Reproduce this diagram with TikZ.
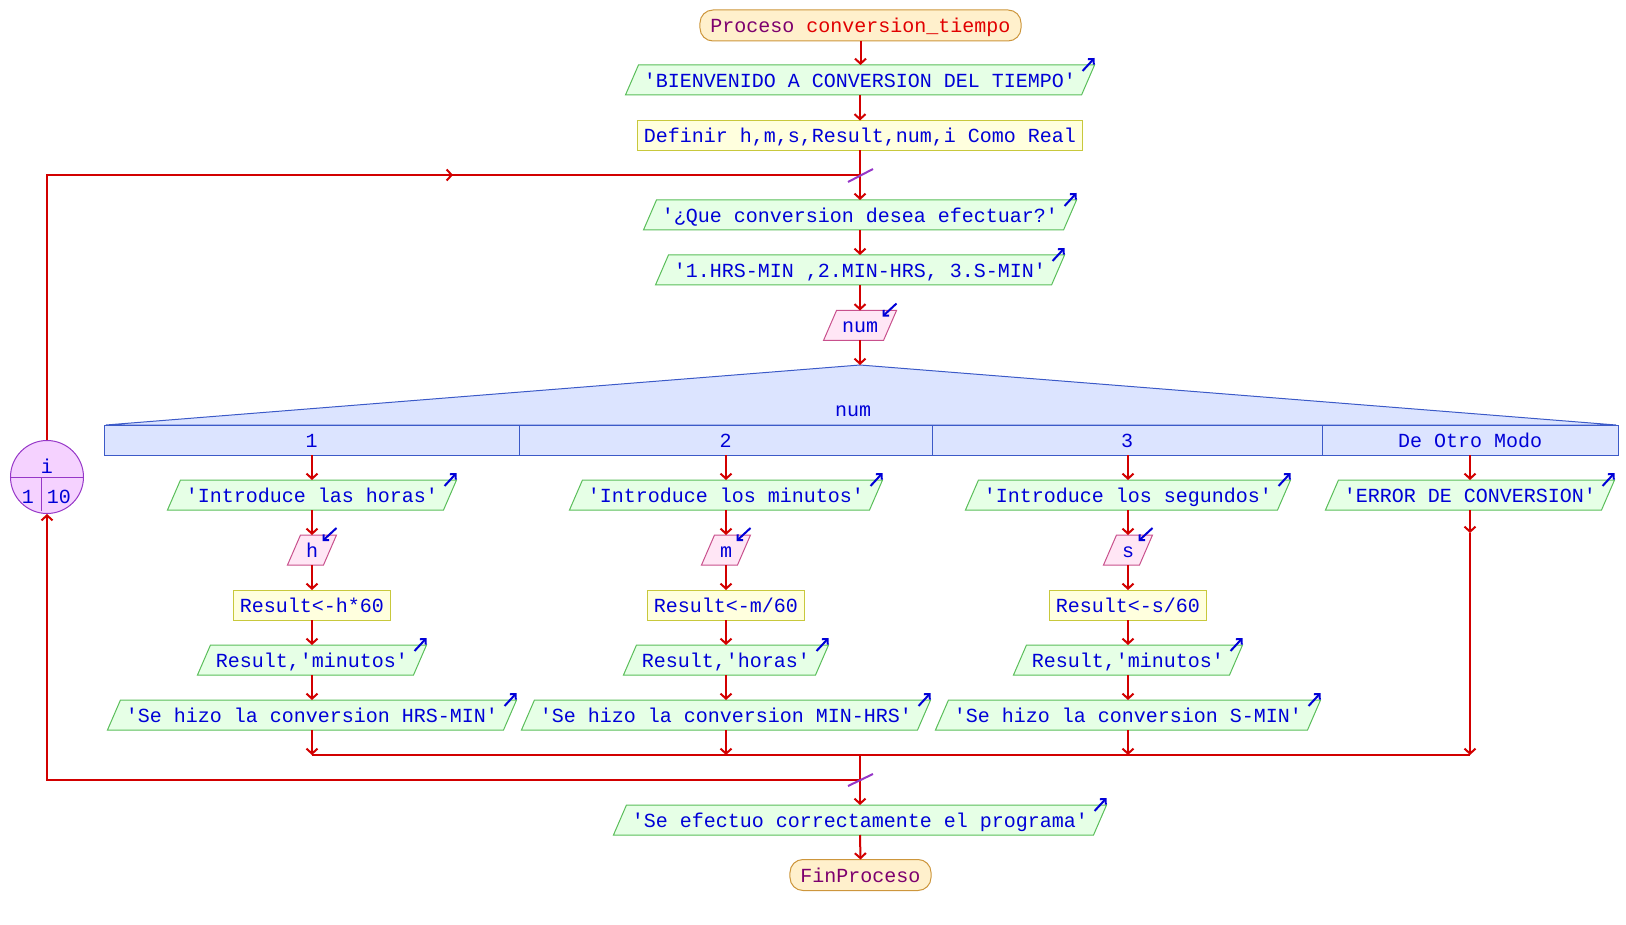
\documentclass[tikz,border=0pt]{standalone}
\usepackage{fontspec}
\setmonofont{Liberation Mono}
\usetikzlibrary{arrows.meta,calc,backgrounds}
\definecolor{txtblue}{RGB}{0,0,215}
\definecolor{flowred}{RGB}{210,0,0}
\definecolor{termfill}{RGB}{255,240,204}
\definecolor{termdraw}{RGB}{205,150,60}
\definecolor{termpurple}{RGB}{125,0,110}
\definecolor{termred}{RGB}{225,0,0}
\definecolor{outfill}{RGB}{230,255,230}
\definecolor{outdraw}{RGB}{90,190,90}
\definecolor{deffill}{RGB}{255,255,222}
\definecolor{defdraw}{RGB}{200,200,60}
\definecolor{infill}{RGB}{255,230,245}
\definecolor{indraw}{RGB}{200,80,140}
\definecolor{swfill}{RGB}{220,228,255}
\definecolor{swdraw}{RGB}{60,90,200}
\definecolor{loopfill}{RGB}{245,210,255}
\definecolor{loopdraw}{RGB}{150,55,200}
\tikzset{
  basetxt/.style={font=\ttfamily\fontsize{20}{24}\selectfont, text=txtblue, text height=18pt, text depth=3pt, outer sep=0pt},
  parabox/.style={basetxt, rectangle, inner xsep=12pt, inner ysep=4.5pt},
  defbox/.style={basetxt, rectangle, inner xsep=6pt, inner ysep=4.5pt, draw=defdraw, fill=deffill, line width=1pt},
  termbox/.style={basetxt, rectangle, rounded corners=13pt, inner xsep=10.5pt, inner ysep=5pt, draw=termdraw, fill=termfill, line width=1pt, text=termpurple},
  casebox/.style={basetxt, rectangle, inner sep=0pt, minimum height=30pt, draw=swdraw, fill=swfill, line width=1pt},
  lbl/.style={basetxt, inner sep=0pt},
  flow/.style={draw=flowred, line width=2pt, -{Straight Barb[length=5pt,width=11pt]}},
  fline/.style={draw=flowred, line width=2pt},
  icon/.style={draw=txtblue, line width=2pt, -{Straight Barb[length=4pt,width=8pt]}},
  slashmark/.style={draw=loopdraw, line width=2pt},
}
\begin{document}
\begin{tikzpicture}[x=1pt,y=-1pt]
\useasboundingbox (0,0) rectangle (1626,925);
% main axis
\node[termbox] (start) at (860.5,25.5) {Proceso {\color{termred}conversion\_tiempo}};
\node[parabox] (bienv) at (860,80) {'BIENVENIDO A CONVERSION DEL TIEMPO'};
\node[defbox] (def) at (860,135.5) {Definir h,m,s,Result,num,i Como Real};
\node[parabox] (que) at (860,215) {'¿Que conversion desea efectuar?'};
\node[parabox] (menu) at (860,270) {'1.HRS-MIN ,2.MIN-HRS, 3.S-MIN'};
\node[parabox] (numin) at (860,325.5) {num};
% switch
\coordinate (swtop) at (860,365);
\draw[draw=swdraw, fill=swfill, line width=1pt] (106,425) -- (swtop) -- (1616,425) -- cycle;
\node[lbl] (swlbl) at (853,409) {num};
\node[casebox, minimum width=415pt] (k1) at (311.5,440) {1};
\node[casebox, minimum width=413pt] (k2) at (725.5,440) {2};
\node[casebox, minimum width=390pt] (k3) at (1127,440) {3};
\node[casebox, minimum width=296pt] (k4) at (1470,440) {De Otro Modo};
% column 1
\node[parabox] (a1) at (312,495) {'Introduce las horas'};
\node[parabox] (a2) at (312,550) {h};
\node[defbox] (a3) at (312,605) {Result<-h*60};
\node[parabox] (a4) at (312,660) {Result,'minutos'};
\node[parabox] (a5) at (312,715) {'Se hizo la conversion HRS-MIN'};
% column 2
\node[parabox] (b1) at (726,495) {'Introduce los minutos'};
\node[parabox] (b2) at (726,550) {m};
\node[defbox] (b3) at (726,605) {Result<-m/60};
\node[parabox] (b4) at (726,660) {Result,'horas'};
\node[parabox] (b5) at (726,715) {'Se hizo la conversion MIN-HRS'};
% column 3
\node[parabox] (c1) at (1128,495) {'Introduce los segundos'};
\node[parabox] (c2) at (1128,550) {s};
\node[defbox] (c3) at (1128,605) {Result<-s/60};
\node[parabox] (c4) at (1128,660) {Result,'minutos'};
\node[parabox] (c5) at (1128,715) {'Se hizo la conversion S-MIN'};
% column 4
\node[parabox] (d1) at (1470,495) {'ERROR DE CONVERSION'};
% end
\node[parabox] (fin) at (860,820) {'Se efectuo correctamente el programa'};
\node[termbox] (stop) at (860.5,875) {FinProceso};
% parallelogram outlines behind the texts
\begin{scope}[on background layer]
\foreach \n in {bienv,que,menu,a1,a4,a5,b1,b4,b5,c1,c4,c5,d1,fin}{
  \draw[draw=outdraw, fill=outfill, line width=1pt] ($(\n.south west)+(-6.5,0)$) -- ($(\n.south east)+(-6.5,0)$) -- ($(\n.north east)+(6.5,0)$) -- ($(\n.north west)+(6.5,0)$) -- cycle;
}
\foreach \n in {numin,a2,b2,c2}{
  \draw[draw=indraw, fill=infill, line width=1pt] ($(\n.south west)+(-6.5,0)$) -- ($(\n.south east)+(-6.5,0)$) -- ($(\n.north east)+(6.5,0)$) -- ($(\n.north west)+(6.5,0)$) -- cycle;
}
\end{scope}
% loop node
\node[circle, draw=loopdraw, fill=loopfill, line width=1pt, minimum size=73pt, inner sep=0pt] (loop) at (47,477) {};
\draw[draw=loopdraw, line width=1pt] (loop.west) -- (loop.east);
\draw[draw=loopdraw, line width=1pt] ($(loop.center)+(-6,0)$) -- ($(loop.center)+(-6,34)$);
\node[lbl] (li) at (47,465.5) {i};
\node[lbl] (l1) at (28,495.5) {1};
\node[lbl] (l10) at (59,495.5) {10};
% coordinates
\coordinate (lt1) at (47,175);
\coordinate (lt2) at (860,175);
\coordinate (lmid) at (453,175);
\coordinate (ma) at (312,755);
\coordinate (mb) at (726,755);
\coordinate (mc) at (1128,755);
\coordinate (md) at (1470,755);
\coordinate (dmid) at (1470,533);
\coordinate (mm) at (860,755);
\coordinate (lb1) at (860,780);
\coordinate (lb2) at (47,780);
% main flow
\draw[flow] (start.south) -- (start.south |- bienv.north);
\draw[flow] (bienv.south) -- (bienv.center |- def.north);
\draw[flow] (def.south) -- (def.south |- que.north);
\draw[flow] (que.south) -- (que.center |- menu.north);
\draw[flow] (menu.south) -- (menu.center |- numin.north);
\draw[flow] (numin.south) -- (swtop);
% loop top
\draw[fline] (loop.north) -- (lt1) -- (lt2);
\draw[flow] (lt1) -- (lmid);
% cases
\foreach \n/\k in {a1/k1,b1/k2,c1/k3,d1/k4}{
  \draw[flow] (\n.center |- \k.south) -- (\n.north);
}
\foreach \p/\q in {a1/a2,a2/a3,a3/a4,a4/a5,b1/b2,b2/b3,b3/b4,b4/b5,c1/c2,c2/c3,c3/c4,c4/c5}{
  \draw[flow] (\p.south) -- (\q.north);
}
\draw[flow] (a5.south) -- (ma);
\draw[flow] (b5.south) -- (mb);
\draw[flow] (c5.south) -- (mc);
\draw[flow] (d1.south) -- (dmid);
\draw[flow] (dmid) -- (md);
\draw[fline] (ma) -- (md);
\draw[flow] (mm) -- (fin.north);
\draw[flow] (fin.south) -- (stop.north);
% loop bottom
\draw[flow] (mm) -- (lb1) -- (lb2) -- (loop.south);
% slash marks
\draw[slashmark] ($(lt2)+(-12,7)$) -- ($(lt2)+(13,-6)$);
\draw[slashmark] ($(lb1)+(-12,6)$) -- ($(lb1)+(13,-6)$);
% icons
\foreach \n in {bienv,que,menu,a1,a4,a5,b1,b4,b5,c1,c4,c5,d1,fin}{
  \draw[icon] ($(\n.north east)+(-5.5,6)$) -- ($(\n.north east)+(6.5,-7)$);
}
\foreach \n in {numin,a2,b2,c2}{
  \draw[icon] ($(\n.north east)+(6.5,-7)$) -- ($(\n.north east)+(-7.5,6)$);
}
\end{tikzpicture}
\end{document}
